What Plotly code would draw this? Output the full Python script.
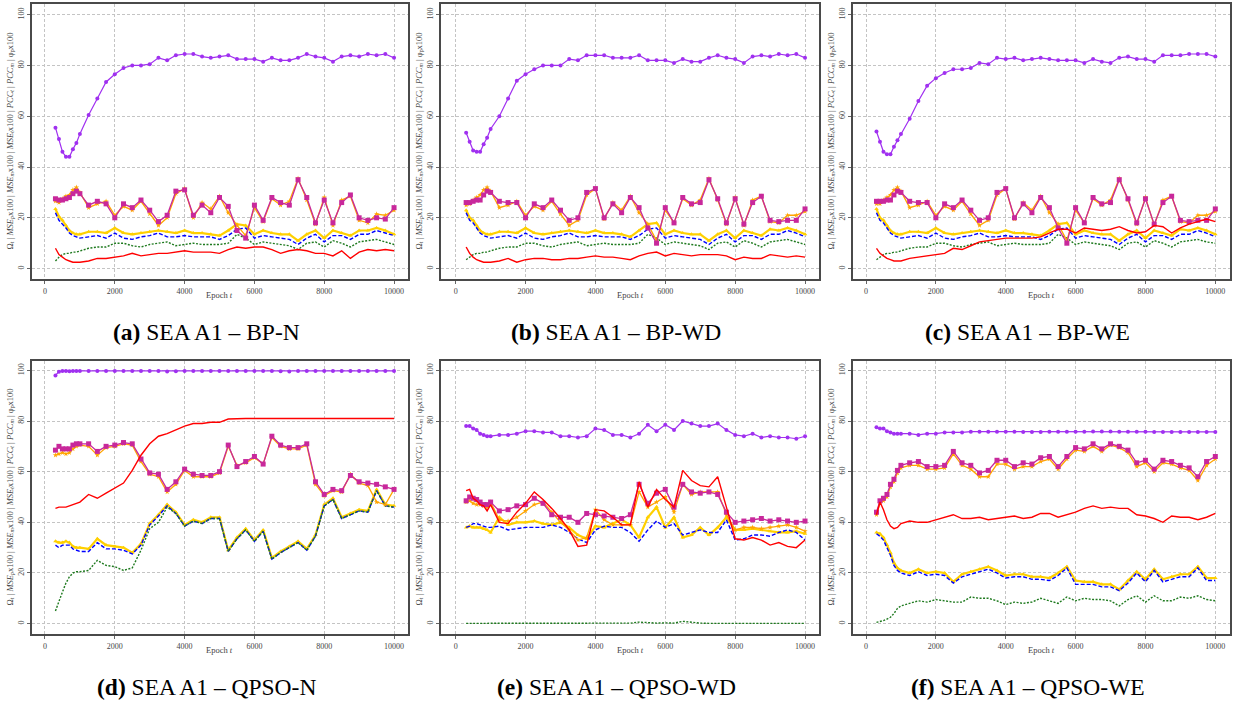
import plotly.graph_objects as go

W, H = 1235, 709

# ---------------- data ----------------
epochs = [300, 400, 500, 600, 700, 800, 900, 1000, 1250, 1500, 1750, 2000, 2250, 2500, 2750, 3000,
          3250, 3500, 3750, 4000, 4250, 4500, 4750, 5000, 5250, 5500, 5750, 6000, 6250, 6500, 6750,
          7000, 7250, 7500, 7750, 8000, 8250, 8500, 8750, 9000, 9250, 9500, 9750, 10000]

y_ticks = [0, 20, 40, 60, 80, 100]
x_ticks = [0, 2000, 4000, 6000, 8000, 10000]

captions = ["(a)", "(b)", "(c)", "(d)", "(e)", "(f)"]
caption_texts = ["SEA A1 – BP-N", "SEA A1 – BP-WD", "SEA A1 – BP-WE",
                 "SEA A1 – QPSO-N", "SEA A1 – QPSO-WD", "SEA A1 – QPSO-WE"]

# panel (a) BP-N
a_purple = [55.5, 51, 46, 44, 44, 47, 49.5, 53, 60.5, 67, 73.5, 76.5, 79, 80, 80, 80.5, 83, 82, 84, 84.5, 84.5, 83.5, 83, 83.5, 84, 82.5, 82.5, 82.5, 81.5, 83, 82, 82, 83, 84.5, 83.5, 83, 81.5, 83.5, 84, 83.5, 84.5, 84, 84.5, 83]
a_magenta = [27.5, 27, 27, 27.5, 28, 29.5, 30.5, 29.5, 25, 26.5, 25.5, 20, 25.5, 24, 27, 23, 18.5, 21, 30.5, 31, 21, 25, 22, 28, 24.5, 15, 12, 25, 19, 28, 26, 25, 35, 28, 18, 27, 18, 26, 29, 20, 19, 20, 19.5, 24]
a_orange = [26.5, 26, 27.5, 28.5, 29, 31, 32, 30, 24, 25.5, 26.5, 21, 24.5, 23, 26.5, 21.5, 17, 20, 29.5, 31.5, 20, 26, 23.5, 28.5, 22, 17, 13, 24, 18.5, 27.5, 25, 26.5, 35.5, 27, 17.5, 28, 17, 27, 28.5, 19, 18, 21.5, 21, 23]
a_yellow = [23.5, 20.5, 19, 17, 15, 14, 13.5, 13.5, 14.5, 14.5, 14, 16, 14, 13.5, 14, 14.5, 15, 14.5, 14, 15, 14, 14, 13.5, 13, 15, 17.5, 17, 13.5, 15, 14, 13.5, 13.5, 11, 13.5, 15, 12, 15, 14, 13, 15, 15, 16, 15, 13.5]
a_blue = [22, 19, 17.5, 16, 14, 13, 12.5, 12, 12.5, 13, 12, 14, 12, 11.5, 12.5, 13, 14, 12.5, 12.5, 13, 12.5, 12.5, 12.5, 11.5, 13, 15.5, 16, 12, 13, 12.5, 12, 11.5, 9.5, 12, 13.5, 10.5, 13, 13, 11.5, 13.5, 13.5, 15, 14, 13]
a_green = [3, 4.5, 5.5, 6, 6, 6.5, 6.5, 7, 8, 8.5, 8.5, 10, 10, 9, 8.5, 9.5, 10, 10.5, 9, 9.5, 10, 9.5, 9.5, 9.5, 10, 13.5, 12, 9.5, 10.5, 10, 9.5, 9, 7.5, 10, 10.5, 8.5, 11, 10, 8.5, 10.5, 11, 11.5, 10.5, 9.5]
a_red = [8, 5.5, 4.5, 3.5, 3, 2.5, 2.5, 2.5, 3, 4, 4, 4.5, 5, 6, 5, 5.5, 6, 6, 6.5, 7, 6.5, 6.5, 6.5, 6, 7.5, 8.5, 8, 8.5, 8.5, 7.5, 6, 7, 7.5, 7, 6, 6, 5, 7, 4, 6.5, 7.5, 7, 7.5, 7]

# panel (b) BP-WD
b_purple = [53.5, 50, 46.5, 46, 46, 49, 51.5, 55, 60, 67, 74, 76.5, 78.5, 80, 80, 80, 82.5, 82, 84, 84, 84, 83, 83, 83, 84, 82, 82, 82, 81, 82.5, 81.5, 81.5, 83, 84, 83, 82.5, 81, 83.5, 84, 83.5, 84.5, 84, 84.5, 83]
b_magenta = [26, 26, 26.5, 27, 27, 29, 30.5, 30, 26.5, 26, 26, 20, 25.5, 24, 27, 23, 19, 20, 30, 31.5, 20, 25.5, 22, 28, 24, 16, 10, 24, 18, 28, 25.5, 26, 35, 27.5, 18, 27.5, 17.5, 26, 28.5, 19, 18.5, 19, 19, 23.5]
b_orange = [25, 25.5, 27, 28, 29, 31, 32, 30.5, 24, 25, 26.5, 21, 24.5, 23, 26.5, 21.5, 17, 19, 29, 31.5, 19.5, 26, 23, 28.5, 22, 17.5, 11, 23, 18, 27.5, 25, 27, 35.5, 27, 17.5, 28, 17, 27, 28.5, 18.5, 18, 21, 21, 22.5]
b_yellow = [23, 20, 19, 17, 15, 14, 13.5, 13.5, 14.5, 14.5, 14, 16, 14, 13.5, 14, 14.5, 15, 14.5, 14, 15, 14, 14, 13.5, 12.5, 15, 17.5, 18, 13.5, 15, 14, 13.5, 13.5, 11, 13.5, 15, 12, 15, 14, 13, 15.5, 15, 16, 15, 13.5]
b_blue = [22, 19, 18, 16, 14, 13, 12.5, 12, 12.5, 13, 12, 14, 12, 11.5, 12.5, 13, 14, 12.5, 12.5, 13, 12.5, 12.5, 12.5, 11.5, 13, 15.5, 16, 12, 13, 12.5, 12, 11.5, 9.5, 12, 13.5, 10.5, 13, 13, 11.5, 13.5, 13.5, 15, 14, 12.5]
b_green = [3.5, 4.5, 5.5, 6, 6, 6.5, 6.5, 7, 8, 8.5, 8.5, 10, 10, 9, 8.5, 9.5, 10, 10.5, 9, 9.5, 10, 9.5, 9.5, 9.5, 10, 13.5, 12, 9.5, 10.5, 10, 9.5, 9, 7.5, 10, 10.5, 8.5, 11, 10, 8.5, 10.5, 11, 11.5, 10.5, 9.5]
b_red = [8.5, 6, 4.5, 3.5, 3, 2.5, 2.5, 2.5, 3, 4, 2.5, 3.5, 4, 4, 3.5, 3.5, 4, 4, 4.5, 5, 4.5, 4.5, 4, 3.5, 5, 6, 6.5, 5, 6, 5.5, 5, 5.5, 5.5, 5.5, 5, 3.5, 4.5, 4, 4, 5.5, 5, 4.5, 5, 4.5]

# panel (c) BP-WE
c_purple = [54, 50, 46, 45, 45, 48, 50.5, 53, 59, 66, 72, 75, 77, 78.5, 78.5, 79, 81, 80.5, 83, 82.5, 83, 82, 82.5, 83, 82.5, 82, 82, 82, 81, 82.5, 81.5, 81, 83, 83.5, 82.5, 82.5, 81.5, 84, 84, 84, 84.5, 84.5, 84.5, 83.5]
c_magenta = [26.5, 26.5, 26.5, 27, 27, 29, 30.5, 30, 26.5, 26, 26, 20, 25.5, 24, 27, 23, 19, 20, 30, 31.5, 20, 25.5, 22, 28, 24, 16, 10, 24, 18, 28, 25.5, 26, 35, 27.5, 18, 27.5, 17.5, 26, 28.5, 19, 18.5, 19, 19, 23.5]
c_orange = [25.5, 25.5, 27, 28, 29, 31, 32, 30.5, 24, 25, 26.5, 21, 24.5, 23, 26.5, 21.5, 17, 19, 29, 31.5, 19.5, 26, 23, 28.5, 22, 17.5, 11, 23, 18, 27.5, 25, 27, 35.5, 27, 17.5, 28, 17, 27, 28.5, 18.5, 18, 21, 21, 22.5]
c_yellow = [23.5, 20, 19, 17, 15, 14, 13.5, 13.5, 14.5, 14.5, 14, 16, 14, 13.5, 14, 14.5, 15, 14.5, 14, 15, 14, 14, 13.5, 13, 15, 17.5, 18, 13.5, 15, 14, 13.5, 13.5, 11, 13.5, 15, 12, 15, 14, 13, 15.5, 15, 16, 15, 13.5]
c_blue = [22, 19, 18, 16, 14, 13, 12.5, 12, 12.5, 13, 12, 14, 12, 11.5, 12.5, 13, 14, 12.5, 12.5, 13, 12.5, 12.5, 12.5, 11.5, 13, 15.5, 16, 12, 13, 12.5, 12, 11.5, 9.5, 12, 13.5, 10.5, 13, 13, 11.5, 13.5, 13.5, 15, 14, 12.5]
c_green = [3.5, 4.5, 5.5, 6, 6, 6.5, 6.5, 7, 8, 8.5, 8.5, 10, 10, 9, 8.5, 9.5, 10, 10.5, 9, 9.5, 10, 9.5, 9.5, 9.5, 10, 13.5, 12, 9.5, 10.5, 10, 9.5, 9, 7.5, 10, 10.5, 8.5, 11, 10, 8.5, 10.5, 11, 11.5, 10.5, 10]
c_red = [8, 6, 5, 4, 3.5, 3, 3, 3, 4, 4.5, 5, 5.5, 6, 8, 7.5, 9, 10.5, 11, 11.5, 12, 12, 12, 12, 12.5, 14, 15.5, 15.5, 14, 16, 15.5, 15, 15.5, 16.5, 15, 14, 14.5, 17, 16.5, 14, 16, 17.5, 18.5, 19.5, 18.5]

# panel (d) QPSO-N
d_purple = [98, 99.5, 99.8, 99.8, 99.7, 99.8, 99.8, 99.8, 99.8, 99.8, 99.8, 99.8, 99.8, 99.8, 99.8, 99.8, 99.8, 99.6, 99.7, 99.8, 99.8, 99.8, 99.8, 99.8, 99.8, 99.8, 99.8, 99.8, 99.8, 99.8, 99.7, 99.6, 99.8, 99.8, 99.8, 99.8, 99.8, 99.8, 99.8, 99.8, 99.8, 99.8, 99.8, 99.8]
d_magenta = [68.5, 70, 69, 69, 69, 70.5, 71, 71, 71, 68, 70, 70.5, 71.5, 71, 65, 59.5, 59, 53, 56, 61, 59, 58.5, 58.5, 60, 70.5, 62, 64, 66, 63, 74, 70.5, 69.5, 69.5, 71, 56, 51, 53, 52.5, 58.5, 56, 55.5, 55, 54, 53]
d_orange = [66.5, 67, 67.5, 67, 67.5, 69, 70, 70.5, 70, 66.5, 69.5, 70, 71, 70.5, 64, 59, 58, 52, 55, 60.5, 58, 58, 58, 59.5, 70, 62.5, 63.5, 65.5, 63, 73.5, 70, 69, 69, 70.5, 55, 50.5, 52.5, 52, 59, 55.5, 54.5, 48, 47, 53]
d_yellow = [32.5, 32, 32, 32.5, 32, 30.5, 30, 30, 29.5, 33.5, 31, 30.5, 30, 28, 31.5, 39.5, 43, 47, 44, 39, 41, 40, 42, 42, 29, 34, 37.5, 33, 37, 26, 28.5, 30.5, 32.5, 29.5, 35, 47, 49.5, 42, 43.5, 45, 44.5, 53, 47, 46.5]
d_blue = [31, 30, 31, 31, 31, 29.5, 29, 28.5, 28.5, 32, 29.5, 29.5, 29, 27.5, 31, 39, 42.5, 46.5, 43.5, 38.5, 40.5, 39.5, 41.5, 41.5, 28.5, 33.5, 37, 32.5, 36.5, 25.5, 28, 30, 32, 29, 34.5, 46.5, 49, 41.5, 43, 44.5, 44, 52.5, 46.5, 46]
d_green = [5, 9, 12.5, 16, 18.5, 20, 20.5, 20.5, 21, 25, 23, 22.5, 21, 22, 29, 37.5, 40, 46, 43.5, 38.5, 40.5, 39.5, 41.5, 41.5, 28.5, 33.5, 37, 32.5, 36.5, 25.5, 28, 30, 32, 29, 34.5, 46.5, 49, 41.5, 43, 44.5, 44, 52.5, 46.5, 46]
d_red = [45.5, 46, 46, 46, 46.5, 47, 47.5, 48, 51, 49.5, 51.5, 53.5, 55.5, 60.5, 66.5, 71, 74, 75, 76.5, 78, 79, 79, 79.5, 79.5, 80.8, 81, 81, 81, 81, 81, 80.8, 80.8, 81, 81, 81, 81, 81, 81, 80.8, 80.8, 81, 81, 81, 81]

# panel (e) QPSO-WD
e_purple = [78, 78, 77, 76.5, 75, 74.5, 74, 74, 74.5, 74.5, 75, 76, 76, 75.5, 75.5, 74, 74, 73.5, 74, 77, 76.5, 74.5, 74.5, 73.5, 75, 78.5, 76, 78.5, 76.5, 80, 79, 78, 78, 79, 76.5, 74.5, 74, 75, 73.5, 74, 73.5, 73.5, 73, 74]
e_magenta = [48.5, 50, 49.5, 49, 48, 47, 47, 48, 44.5, 45, 46.5, 47, 49.5, 47.5, 43, 42, 42, 40, 43.5, 43, 42.5, 42, 41.5, 43, 55, 47.5, 51.5, 53, 46, 55, 52, 51.5, 52, 51, 44, 40, 40.5, 41, 41.5, 40.5, 41, 40.5, 40, 40.5]
e_orange = [48, 48.5, 47.5, 47, 47, 46.5, 46, 48, 41, 40.5, 42, 44.5, 47, 48, 44, 40, 37, 33, 34, 45, 41, 39, 39, 39, 52, 46, 48, 50, 44, 55, 51, 52, 52, 52, 43, 37, 38, 38, 37.5, 38, 38.5, 39, 38, 36.5]
e_yellow = [38, 38.5, 38, 38, 38, 37.5, 37, 36, 42, 39, 40, 40, 40.5, 39.5, 39, 40, 38, 35, 33.5, 38.5, 38, 39.5, 41, 39, 34, 42, 46, 38, 42, 34, 35, 38, 35, 38, 42, 37, 37, 37.5, 37, 36.5, 36, 36, 36.5, 35.5]
e_blue = [38, 38.5, 39.5, 39.5, 39, 38.5, 38, 38, 38.5, 37, 37.5, 38, 38, 38, 39, 38, 36, 33.5, 32, 37, 38.5, 38, 38, 36, 32.5, 37, 40.5, 38, 39.5, 35, 36, 37, 36, 36, 41, 33, 33.5, 35, 35, 34.5, 36, 37, 36, 33]
e_green = [0.1, 0.1, 0.1, 0.1, 0.1, 0.1, 0.1, 0.1, 0.1, 0.1, 0.1, 0.2, 0.2, 0.2, 0.1, 0.1, 0.1, 0.1, 0.2, 0.1, 0.1, 0.1, 0.1, 0.2, 0.6, 0.3, 0.2, 0.3, 0.2, 0.9, 0.5, 0.2, 0.1, 0.1, 0.1, 0.1, 0.1, 0.1, 0.1, 0.1, 0.1, 0.1, 0.1, 0.1]
e_red = [52.5, 53, 49.5, 48.5, 47, 46.5, 44.5, 47, 40, 39.5, 44, 47.5, 52, 49, 45.5, 41.5, 37, 30.5, 31, 45, 44.5, 42, 39, 39, 56, 46, 53, 49, 46, 60.5, 56.5, 54.5, 54, 58, 46, 33.5, 33, 34, 33, 31, 32, 30.5, 30, 33]

# panel (f) QPSO-WE
f_purple = [77.5, 77, 77, 76, 75.5, 75, 75, 75, 75, 74.5, 75, 75, 75.5, 75.5, 75.5, 75.8, 75.8, 75.8, 75.8, 75.8, 75.8, 75.7, 75.7, 75.7, 75.8, 75.8, 75.8, 75.8, 75.8, 75.9, 75.9, 75.9, 75.8, 75.8, 75.8, 75.8, 75.7, 75.7, 75.7, 75.7, 75.7, 75.7, 75.7, 75.7]
f_magenta = [44, 48.5, 49.5, 51, 55, 57, 60.5, 62.5, 63.5, 64, 62, 62, 62.5, 68, 63.5, 62.5, 59.5, 60.5, 64.5, 64.5, 62, 63.5, 63, 65.5, 66, 62, 66, 69.5, 69, 71, 69, 71, 70, 68.5, 63.5, 64.5, 61, 64.5, 64, 62.5, 61.5, 58, 64, 66]
f_orange = [43, 47.5, 48.5, 50, 54, 56, 59.5, 61.5, 62.5, 62.5, 61, 61, 61.5, 67, 62.5, 61, 58, 58, 63, 63, 61, 62, 62, 64, 65, 61, 65, 68.5, 68, 70, 68, 70.5, 69.5, 67.5, 62, 63.5, 60, 63.5, 63, 61.5, 60.5, 56.5, 62.5, 65]
f_yellow = [36, 35.5, 34, 31, 28, 24, 22, 21, 20, 21.5, 20, 20.5, 20, 16.5, 19.5, 20.5, 21.5, 22.5, 21, 19, 19.5, 19.5, 18.5, 18.5, 18, 20, 22.5, 17, 16.5, 16.5, 15.5, 15.5, 13.5, 17, 20.5, 17.5, 21.5, 17.5, 18.5, 19.5, 19.5, 22.5, 18, 18]
f_blue = [35.5, 34.5, 33, 30, 27, 23, 21, 20, 19, 20.5, 19, 19.5, 19, 16, 18.5, 19.5, 20.5, 21.5, 20, 18, 18.5, 18.5, 17.5, 17.5, 17, 19, 22, 15.5, 15.5, 15.5, 14.5, 14.5, 13, 16, 20, 16.5, 21, 16.5, 17.5, 18.5, 18.5, 22, 17, 17]
f_green = [0.5, 0.8, 1.2, 1.8, 2.5, 4, 6, 7, 8, 9, 8.5, 9.5, 9, 8.5, 8.5, 10.5, 10, 10, 9, 7.5, 8.5, 8, 8.5, 10, 9, 8, 10.5, 9, 10, 9.5, 9.5, 9, 7, 9.5, 11, 8.5, 11, 9, 9, 10.5, 10, 11, 9.5, 9]
f_red = [43, 48, 45, 41, 38.5, 37.5, 38, 39.5, 40.5, 40, 40, 41, 42, 43, 41.5, 41.5, 42, 41, 41.5, 42, 42.5, 41.5, 42, 43.5, 43.5, 42, 43, 44, 45.5, 46.5, 45.5, 46, 45.5, 45.5, 43, 42.5, 41.5, 40, 42.5, 42, 42, 41, 42, 43.5]

panel_series = [
    dict(yellow=a_yellow, blue=a_blue, green=a_green, orange=a_orange, magenta=a_magenta, red=a_red, purple=a_purple),
    dict(yellow=b_yellow, blue=b_blue, green=b_green, orange=b_orange, magenta=b_magenta, red=b_red, purple=b_purple),
    dict(yellow=c_yellow, blue=c_blue, green=c_green, orange=c_orange, magenta=c_magenta, red=c_red, purple=c_purple),
    dict(yellow=d_yellow, blue=d_blue, green=d_green, orange=d_orange, magenta=d_magenta, red=d_red, purple=d_purple),
    dict(yellow=e_yellow, blue=e_blue, green=e_green, orange=e_orange, magenta=e_magenta, red=e_red, purple=e_purple),
    dict(yellow=f_yellow, blue=f_blue, green=f_green, orange=f_orange, magenta=f_magenta, red=f_red, purple=f_purple),
]

# ---------------- styles ----------------
styles = {
    "yellow": dict(mode="lines+markers", line=dict(color="#FFD000", width=2.2),
                   marker=dict(symbol="triangle-up", size=4, color="#FFD000")),
    "blue": dict(mode="lines", line=dict(color="#0000FF", width=1.4, dash="4px,2px")),
    "green": dict(mode="lines", line=dict(color="#1F7A1F", width=1.4, dash="2px,1.5px")),
    "orange": dict(mode="lines+markers", line=dict(color="#FFA500", width=1.3),
                   marker=dict(symbol="star", size=4, color="#FFA500")),
    "magenta": dict(mode="lines+markers", line=dict(color="#C8289B", width=1.3),
                    marker=dict(symbol="square", size=5, color="#C8289B")),
    "red": dict(mode="lines", line=dict(color="#FF0000", width=1.4)),
    "purple": dict(mode="lines+markers", line=dict(color="#A030F0", width=1.2),
                   marker=dict(symbol="circle", size=4, color="#A030F0")),
}
order = ["yellow", "blue", "green", "orange", "magenta", "red", "purple"]

# frame positions in pixels (left, right) and (top, bottom)
cols_px = [(32, 408), (441, 819), (853, 1230)]
rows_px = [(4, 279), (361, 634)]
xranges = [[-372, 10400], [-420, 10400], [-372, 10420]]
yranges = [[-4.1, 104.2], [-4.1, 103.7]]

fig = go.Figure()
annotations = []
layout_axes = {}
font_fam = "Liberation Serif, Times New Roman, serif"
ytitle = ("Ω<sub>t</sub> | <i>MSE<sub>p</sub></i>x100 | <i>MSE<sub>m</sub></i>x100 | "
          "<i>MSE<sub>t</sub></i>x100 | <i>PCC<sub>t</sub></i> | <i>PCC<sub>m</sub></i> | φ<sub>p</sub>x100")

for i, series in enumerate(panel_series):
    r, c = divmod(i, 3)
    n = i + 1
    xs = "x" if n == 1 else f"x{n}"
    ys = "y" if n == 1 else f"y{n}"
    for key in order:
        fig.add_trace(go.Scatter(x=epochs, y=series[key], xaxis=xs, yaxis=ys,
                                 showlegend=False, hoverinfo="skip", **styles[key]))
    l, rr = cols_px[c]
    t, b = rows_px[r]
    common = dict(showline=True, mirror=True, linecolor="#4a4a4a", linewidth=2,
                  showgrid=True, gridcolor="#c4c4c4", gridwidth=0.8, griddash="3px,2px",
                  zeroline=False, ticks="outside", ticklen=3, tickwidth=1, tickcolor="#666",
                  tickfont=dict(family=font_fam, size=8, color="#444"))
    layout_axes[f"xaxis{'' if n == 1 else n}"] = dict(
        domain=[l / W, rr / W], anchor=ys, range=xranges[c],
        tickmode="array", tickvals=x_ticks, ticktext=[str(v) for v in x_ticks], **common)
    layout_axes[f"yaxis{'' if n == 1 else n}"] = dict(
        domain=[1 - b / H, 1 - t / H], anchor=xs, range=yranges[r],
        tickmode="array", tickvals=y_ticks, ticktext=[str(v) for v in y_ticks],
        tickangle=-90, **common)
    # y title
    annotations.append(dict(text=ytitle, textangle=-90, xref="paper", yref="paper",
                            x=(l - 22) / W, y=1 - ((t + b) / 2) / H, showarrow=False,
                            xanchor="center", yanchor="middle",
                            font=dict(family=font_fam, size=8.5, color="#444")))
    # x title
    annotations.append(dict(text="Epoch <i>t</i>", xref="paper", yref="paper",
                            x=((l + rr) / 2) / W, y=1 - (b + 16) / H, showarrow=False,
                            xanchor="center", yanchor="middle",
                            font=dict(family=font_fam, size=8.5, color="#444")))
    # caption
    annotations.append(dict(text=f"<b>{captions[i]}</b> {caption_texts[i]}",
                            xref="paper", yref="paper",
                            x=((l - 28 + rr) / 2) / W, y=1 - (b + 53) / H, showarrow=False,
                            xanchor="center", yanchor="middle",
                            font=dict(family=font_fam, size=23.5, color="#000")))

fig.update_layout(width=W, height=H, margin=dict(l=0, r=0, t=0, b=0),
                  paper_bgcolor="white", plot_bgcolor="white",
                  annotations=annotations, **layout_axes)

fig.write_html("out.html")
